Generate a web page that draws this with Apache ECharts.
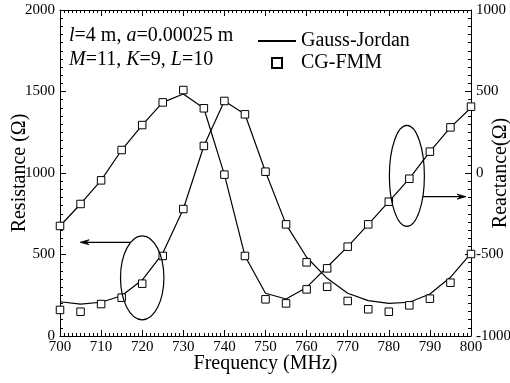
<!DOCTYPE html>
<html>
<head>
<meta charset="utf-8">
<script src="https://cdn.jsdelivr.net/npm/echarts@6/dist/echarts.min.js"></script>
<style>
  html, body { margin: 0; padding: 0; background: #fff; }
  #chart { width: 510px; height: 383px; }
</style>
</head>
<body>
<div id="chart"></div>
<script>
// Frequency sweep (MHz)
const frequency = [700, 705, 710, 715, 720, 725, 730, 735, 740, 745, 750,
                   755, 760, 765, 770, 775, 780, 785, 790, 795, 800];

// Input resistance (Ohm), left axis
const resistanceGaussJordan = [210, 196, 207, 247, 343, 507, 779, 1166, 1442, 1360, 1008,
                               685, 483, 354, 262, 217, 200, 207, 258, 360, 507];
const resistanceCgFmm       = [160, 149, 196, 235, 321, 491, 779, 1166, 1442, 1360, 1008,
                               685, 452, 302, 215, 164, 149, 188, 229, 327, 503];

// Input reactance (Ohm), right axis
const reactanceGaussJordan = [-325, -190, -45, 141, 294, 433, 485, 397, -10, -509, -738,
                              -773, -702, -577, -452, -315, -176, -35, 131, 280, 400];
const reactanceCgFmm       = [-325, -190, -45, 141, 294, 433, 509, 397, -10, -509, -775,
                              -800, -714, -585, -452, -315, -176, -35, 131, 280, 407];

const serif = 'Liberation Serif';
const black = '#000';

const chart = echarts.init(document.getElementById('chart'), null, { renderer: 'canvas' });

function pairs(values) {
  return frequency.map((f, i) => [f, values[i]]);
}

const tickStyle = {
  axisLine: { show: true, onZero: false, lineStyle: { color: black, width: 1 } },
  axisTick: { show: true, inside: true, length: 6, lineStyle: { color: black, width: 1 } },
  minorTick: { show: true, splitNumber: 10, length: 3, lineStyle: { color: black, width: 1 } },
  splitLine: { show: false },
  minorSplitLine: { show: false }
};

const plainNumber = (v) => String(v);
const labelStyle = { color: black, fontFamily: serif, fontSize: 15, formatter: plainNumber };
const nameStyle = { color: black, fontFamily: serif, fontSize: 20 };

const lineSeries = (name, data, yAxisIndex) => ({
  name, type: 'line', data: pairs(data), yAxisIndex,
  symbol: 'none', smooth: false,
  lineStyle: { color: black, width: 1.2 },
  itemStyle: { color: black },
  silent: true, z: 2
});

const markerSeries = (name, data, yAxisIndex) => ({
  name, type: 'scatter', data: pairs(data), yAxisIndex,
  symbol: 'rect', symbolSize: 7.5, symbolKeepAspect: true,
  itemStyle: { color: '#fff', borderColor: black, borderWidth: 1, opacity: 1 },
  silent: true, z: 3
});

const option = {
  animation: false,
  backgroundColor: '#fff',
  grid: { left: 60, right: 39, top: 10, bottom: 47, containLabel: false, outerBoundsMode: 'none' },
  legend: {
    show: true,
    orient: 'vertical',
    left: 252, top: 26,
    itemWidth: 38, itemHeight: 10, itemGap: 2,
    selectedMode: false,
    textStyle: { color: black, fontFamily: serif, fontSize: 20 },
    data: [
      { name: 'Gauss-Jordan', itemStyle: { opacity: 0 } },
      { name: 'CG-FMM', icon: 'path://M0,0h10v10h-10z' }
    ]
  },
  xAxis: [
    Object.assign({
      type: 'value', position: 'bottom', min: 700, max: 800, interval: 10,
      axisLabel: Object.assign({ margin: 4 }, labelStyle),
      name: 'Frequency (MHz)', nameLocation: 'middle', nameGap: 18,
      nameMoveOverlap: false,
      nameTextStyle: nameStyle
    }, tickStyle),
    Object.assign({
      type: 'value', position: 'top', min: 700, max: 800, interval: 10,
      axisLabel: { show: false }
    }, tickStyle)
  ],
  yAxis: [
    Object.assign({
      type: 'value', position: 'left', min: 0, max: 2000, interval: 500,
      axisLabel: Object.assign({ margin: 5 }, labelStyle),
      name: 'Resistance (\u03A9)', nameLocation: 'middle', nameRotate: 90, nameGap: 30,
      nameMoveOverlap: false,
      nameTextStyle: nameStyle
    }, tickStyle),
    Object.assign({
      type: 'value', position: 'right', min: -1000, max: 1000, interval: 500,
      axisLabel: Object.assign({ margin: 5 }, labelStyle),
      name: 'Reactance(\u03A9)', nameLocation: 'middle', nameRotate: 90, nameGap: 20,
      nameMoveOverlap: false,
      nameTextStyle: nameStyle
    }, tickStyle)
  ],
  series: [
    lineSeries('Gauss-Jordan', resistanceGaussJordan, 0),
    lineSeries('Gauss-Jordan', reactanceGaussJordan, 1),
    markerSeries('CG-FMM', resistanceCgFmm, 0),
    markerSeries('CG-FMM', reactanceCgFmm, 1)
  ]
};

chart.setOption(option);

// Ellipses grouping each curve with the axis it belongs to, plus pointer arrows.
function toPixel(x, y, yAxisIndex) {
  return chart.convertToPixel({ xAxisIndex: 0, yAxisIndex: yAxisIndex }, [x, y]);
}

function ellipseWithArrow(center, rx, ry, arrowY, tipX, dir) {
  const c = center;
  const dy = arrowY - c[1];
  const dx = rx * Math.sqrt(Math.max(0, 1 - (dy * dy) / (ry * ry)));
  const startX = c[0] + dir * dx;
  const head = 9, half = 2.5;
  return [
    {
      type: 'ellipse', silent: true, z: 10,
      shape: { cx: c[0], cy: c[1], rx: rx, ry: ry },
      style: { fill: 'none', stroke: black, lineWidth: 1.2 }
    },
    {
      type: 'line', silent: true, z: 10,
      shape: { x1: startX, y1: arrowY, x2: tipX - dir * head * 0.6, y2: arrowY },
      style: { stroke: black, lineWidth: 1.2 }
    },
    {
      type: 'polygon', silent: true, z: 10,
      shape: { points: [[tipX, arrowY], [tipX - dir * head, arrowY - half], [tipX - dir * head * 0.6, arrowY], [tipX - dir * head, arrowY + half]] },
      style: { fill: black, stroke: black, lineWidth: 0.8 }
    }
  ];
}

const leftCenter = toPixel(720, 357, 0);
const leftArrowY = toPixel(700, 575, 0)[1];
const leftTipX = toPixel(704.9, 0, 0)[0];

const rightCenter = toPixel(784.4, -18, 1);
const rightArrowY = toPixel(700, -145, 1)[1];
const rightTipX = toPixel(798.8, 0, 1)[0];

chart.setOption({
  graphic: [
    ...ellipseWithArrow(leftCenter, 21.7, 42, leftArrowY, leftTipX, -1),
    ...ellipseWithArrow(rightCenter, 17.5, 50.5, rightArrowY, rightTipX, 1),
    {
      type: 'text', left: 69, top: 24, silent: true, z: 10,
      style: {
        text: '{i|l}=4 m, {i|a}=0.00025 m\n{i|M}=11, {i|K}=9, {i|L}=10',
        fontFamily: serif, fontSize: 20, fill: black, lineHeight: 24,
        rich: {
          i: { fontFamily: serif, fontSize: 20, fontStyle: 'italic', fill: black, lineHeight: 24 }
        }
      }
    }
  ]
});
</script>
</body>
</html>
